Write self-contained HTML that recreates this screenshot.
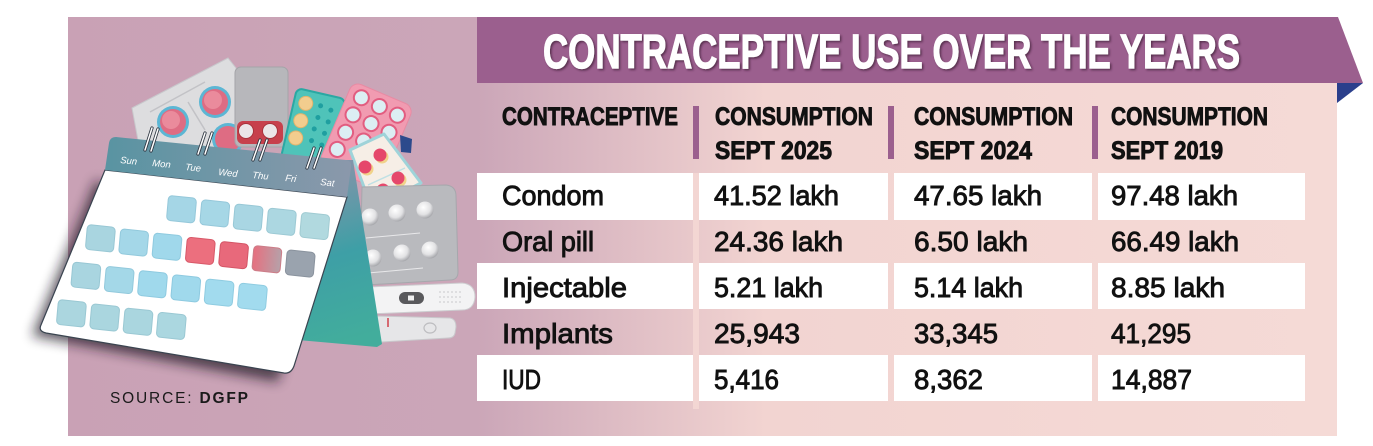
<!DOCTYPE html>
<html><head><meta charset="utf-8">
<style>html,body{margin:0;padding:0;background:#fff;}svg{display:block}</style>
</head><body>
<svg width="1373" height="446" viewBox="0 0 1373 446" xmlns="http://www.w3.org/2000/svg">
<defs>
<linearGradient id="bg" x1="68" y1="0" x2="1337" y2="0" gradientUnits="userSpaceOnUse">
<stop offset="0" stop-color="#c9a1b5"/>
<stop offset="0.322" stop-color="#cba6b8"/>
<stop offset="0.55" stop-color="#f2d4d1"/>
<stop offset="1" stop-color="#f5dad6"/>
</linearGradient>
<linearGradient id="band" x1="105" y1="0" x2="352" y2="0" gradientUnits="userSpaceOnUse">
<stop offset="0" stop-color="#5994a2"/>
<stop offset="1" stop-color="#8b98ab"/>
</linearGradient>
<linearGradient id="stand" x1="335" y1="165" x2="385" y2="330" gradientUnits="userSpaceOnUse">
<stop offset="0" stop-color="#8394a9"/>
<stop offset="0.5" stop-color="#3e9fa6"/>
<stop offset="1" stop-color="#42ad9c"/>
</linearGradient>
<linearGradient id="redgrey" x1="0" y1="0" x2="1" y2="0">
<stop offset="0" stop-color="#e6707f"/>
<stop offset="1" stop-color="#b6a1a9"/>
</linearGradient>
<radialGradient id="pearl" cx="0.4" cy="0.35" r="0.7">
<stop offset="0" stop-color="#ffffff"/>
<stop offset="0.6" stop-color="#e2e2e4"/>
<stop offset="1" stop-color="#9d9ea3"/>
</radialGradient>
<filter id="blur" x="-30%" y="-30%" width="160%" height="160%"><feGaussianBlur stdDeviation="6"/></filter>
<filter id="tsh" x="-5%" y="-20%" width="110%" height="140%"><feDropShadow dx="1.5" dy="1.5" stdDeviation="1" flood-color="#3a1d35" flood-opacity="0.7"/></filter>
</defs>

<!-- panel -->
<rect x="68" y="17" width="1269" height="419" fill="url(#bg)"/>

<!-- calendar shadow -->
<path d="M96,180 L32,336 L278,382 L300,300 Z" fill="#1e1620" opacity="0.7" filter="url(#blur)"/>

<!-- pack A silver -->
<polygon points="132,108 228,58 236,68 236,155 142,162" fill="#dddddf" stroke="#c8c8cc" stroke-width="1"/>
<line x1="150" y1="112" x2="205" y2="82" stroke="#c2c2c6" stroke-width="1.5"/>
<line x1="188" y1="102" x2="205" y2="130" stroke="#c2c2c6" stroke-width="1.5"/>
<circle cx="173" cy="122" r="16" fill="#5cb6d4"/><circle cx="173" cy="122" r="13" fill="#de6c83"/><circle cx="171" cy="120" r="9" fill="#ea8b9c"/>
<circle cx="215" cy="102" r="16" fill="#5cb6d4"/><circle cx="215" cy="102" r="13" fill="#de6c83"/><circle cx="213" cy="100" r="9" fill="#ea8b9c"/>
<circle cx="228" cy="139" r="16" fill="#5cb6d4"/><circle cx="228" cy="139" r="13" fill="#de6c83"/>

<!-- pack B grey -->
<rect x="235" y="67" width="53" height="80" rx="6" fill="#b7b7bb" stroke="#a4a4a8" stroke-width="1"/>
<rect x="237" y="121" width="46" height="23" rx="6" fill="#c7404c"/>
<circle cx="246" cy="131" r="7.5" fill="#ebe5e7" stroke="#a8323c" stroke-width="1"/>
<circle cx="270" cy="131" r="7.5" fill="#ebe5e7" stroke="#a8323c" stroke-width="1"/>

<!-- pack C teal -->
<g transform="translate(297,88) rotate(13)">
<rect x="0" y="0" width="50" height="78" rx="6" fill="#4fc3b9" stroke="#2aa8a3" stroke-width="2"/>
<circle cx="12" cy="13" r="7" fill="#f2cd8e" stroke="#e2b46c" stroke-width="1"/>
<circle cx="11" cy="31" r="7" fill="#f2cd8e" stroke="#e2b46c" stroke-width="1"/>
<circle cx="10" cy="49" r="7" fill="#f2cd8e" stroke="#e2b46c" stroke-width="1"/>
<circle cx="27" cy="12" r="2.5" fill="#1f9fa0"/><circle cx="38" cy="14" r="2.5" fill="#1f9fa0"/>
<circle cx="27" cy="24" r="2.5" fill="#1f9fa0"/><circle cx="38" cy="26" r="2.5" fill="#1f9fa0"/>
<circle cx="26" cy="36" r="2.5" fill="#1f9fa0"/><circle cx="37" cy="38" r="2.5" fill="#1f9fa0"/>
<circle cx="26" cy="48" r="2.5" fill="#1f9fa0"/><circle cx="37" cy="50" r="2.5" fill="#1f9fa0"/>
</g>

<!-- pack D pink -->
<g transform="translate(355,82) rotate(23)">
<rect x="-2" y="0" width="66" height="90" rx="9" fill="#f19bb1" stroke="#e88aa3" stroke-width="1"/>
<g fill="#dceef3" stroke="#e25d80" stroke-width="2">
<circle cx="12" cy="12" r="7.5"/><circle cx="32" cy="13" r="7.5"/><circle cx="52" cy="14" r="7.5"/>
<circle cx="11" cy="31" r="7.5"/><circle cx="31" cy="32" r="7.5"/><circle cx="51" cy="33" r="7.5"/>
<circle cx="11" cy="50" r="7.5"/><circle cx="31" cy="51" r="7.5"/><circle cx="51" cy="52" r="7.5"/>
<circle cx="10" cy="69" r="7.5"/>
</g>
</g>
<polygon points="400,135 412,139 411,153 401,152" fill="#2c4a8c"/>

<!-- pack E cream -->
<polygon points="350,150 384,134 421,183 372,208" fill="#f6eee6" stroke="#9fd3d9" stroke-width="3" stroke-linejoin="round"/>
<line x1="368" y1="185" x2="405" y2="168" stroke="#bfe0e4" stroke-width="1.5"/>
<g>
<circle cx="382" cy="157" r="6.5" fill="#f1d28a"/><circle cx="380" cy="155" r="6.5" fill="#e5476b"/>
<circle cx="367" cy="169" r="6.5" fill="#f1d28a"/><circle cx="365" cy="167" r="6.5" fill="#e5476b"/>
<circle cx="400" cy="180" r="6.5" fill="#f1d28a"/><circle cx="398" cy="178" r="6.5" fill="#e5476b"/>
<circle cx="385" cy="192" r="6.5" fill="#f1d28a"/><circle cx="383" cy="190" r="6.5" fill="#e5476b"/>
</g>

<!-- pack F grey blister -->
<path d="M362,187 L446,185 Q456,186 456,196 L458,272 Q458,280 450,280 L366,285 Q360,285 360,278 Z" fill="#b9babe" stroke="#a6a7ac" stroke-width="1"/>
<line x1="366" y1="238" x2="420" y2="233" stroke="#e8e8ea" stroke-width="1"/>
<line x1="368" y1="273" x2="423" y2="268" stroke="#e8e8ea" stroke-width="1"/>
<circle cx="370" cy="217" r="8.5" fill="url(#pearl)"/><circle cx="397" cy="213" r="8.5" fill="url(#pearl)"/><circle cx="425" cy="210" r="8.5" fill="url(#pearl)"/>
<circle cx="373" cy="258" r="8.5" fill="url(#pearl)"/><circle cx="402" cy="253" r="8.5" fill="url(#pearl)"/><circle cx="430" cy="250" r="8.5" fill="url(#pearl)"/>

<!-- pregnancy tests -->
<path d="M376,316 L450,318 Q456,319 456,327 L455,333 Q454,338 448,338 L380,342 Z" fill="#e6e6e8" stroke="#c9c9cc" stroke-width="1"/>
<line x1="388" y1="318" x2="388" y2="327" stroke="#d0404a" stroke-width="1.5"/>
<ellipse cx="430" cy="328" rx="6" ry="5" fill="none" stroke="#bdbdc0" stroke-width="1.2"/>
<path d="M368,287 L462,283 Q475,284 475,297 Q474,310 462,310 L368,314 Z" fill="#f3f3f4" stroke="#cdcdd0" stroke-width="1"/>
<rect x="399" y="292" width="25" height="12" rx="6" fill="#59595c"/>
<rect x="408" y="295.5" width="6" height="5" fill="#f0f0f0"/>
<g fill="#cfcfd2"><circle cx="440" cy="292" r="0.9"/><circle cx="444" cy="292" r="0.9"/><circle cx="448" cy="292" r="0.9"/><circle cx="452" cy="292" r="0.9"/><circle cx="456" cy="292" r="0.9"/><circle cx="460" cy="292" r="0.9"/>
<circle cx="440" cy="297" r="0.9"/><circle cx="444" cy="297" r="0.9"/><circle cx="448" cy="297" r="0.9"/><circle cx="452" cy="297" r="0.9"/><circle cx="456" cy="297" r="0.9"/><circle cx="460" cy="297" r="0.9"/>
<circle cx="440" cy="302" r="0.9"/><circle cx="444" cy="302" r="0.9"/><circle cx="448" cy="302" r="0.9"/><circle cx="452" cy="302" r="0.9"/><circle cx="456" cy="302" r="0.9"/><circle cx="460" cy="302" r="0.9"/></g>

<!-- stand -->
<polygon points="344,160 353,160 382,344 377,347 298,340 330,200" fill="url(#stand)"/>

<!-- page -->
<path d="M105,170 L347,197 L294,366 Q291,374 284,373 L46,333 Q38,331 41,325 Z" fill="#ffffff" stroke="#3a4450" stroke-width="1.2"/>
<!-- band -->
<path d="M116,137 L346,160 Q352,161 351,167 L347,197 L105,170 L109,143 Q110,137 116,137 Z" fill="url(#band)"/>

<!-- day labels -->
<g fill="#ffffff" font-family="Liberation Sans, sans-serif" font-style="italic" font-size="9.5">
<text x="120" y="163" transform="rotate(6 120 163)">Sun</text>
<text x="152" y="166" transform="rotate(6 152 166)">Mon</text>
<text x="185" y="170" transform="rotate(6 185 170)">Tue</text>
<text x="218" y="175" transform="rotate(6 218 175)">Wed</text>
<text x="252" y="178" transform="rotate(6 252 178)">Thu</text>
<text x="285" y="181" transform="rotate(6 285 181)">Fri</text>
<text x="320" y="185" transform="rotate(6 320 185)">Sat</text>
</g>

<!-- rings -->
<g stroke="#2d3540" stroke-width="3.2" stroke-linecap="round">
<line x1="145" y1="150" x2="152" y2="128"/><line x1="151" y1="151" x2="158" y2="129"/>
<line x1="198" y1="154" x2="205" y2="133"/><line x1="205" y1="154" x2="212" y2="133"/>
<line x1="253" y1="160" x2="260" y2="140"/><line x1="260" y1="160" x2="267" y2="140"/>
<line x1="307" y1="168" x2="314" y2="148"/><line x1="314" y1="168" x2="321" y2="148"/>
</g>
<g stroke="#ffffff" stroke-width="1.5" stroke-linecap="round">
<line x1="145" y1="150" x2="152" y2="128"/><line x1="151" y1="151" x2="158" y2="129"/>
<line x1="198" y1="154" x2="205" y2="133"/><line x1="205" y1="154" x2="212" y2="133"/>
<line x1="253" y1="160" x2="260" y2="140"/><line x1="260" y1="160" x2="267" y2="140"/>
<line x1="307" y1="168" x2="314" y2="148"/><line x1="314" y1="168" x2="321" y2="148"/>
</g>

<!-- squares -->
<g stroke-width="1">
<rect x="0" y="0" width="28" height="25" rx="4" fill="#a5d6e6" stroke="#95c8da" transform="translate(168.6 195.4) skewY(6) skewX(-5)"/>
<rect x="0" y="0" width="28" height="25" rx="4" fill="#a6d7e6" stroke="#95c8da" transform="translate(201.9 199.6) skewY(6) skewX(-5)"/>
<rect x="0" y="0" width="28" height="25" rx="4" fill="#a9d6e3" stroke="#98c8d6" transform="translate(235.2 203.8) skewY(6) skewX(-5)"/>
<rect x="0" y="0" width="28" height="25" rx="4" fill="#acd7e1" stroke="#9cc9d4" transform="translate(268.5 208) skewY(6) skewX(-5)"/>
<rect x="0" y="0" width="28" height="25" rx="4" fill="#b1d9df" stroke="#a0cbd2" transform="translate(301.8 212.2) skewY(6) skewX(-5)"/>

<rect x="0" y="0" width="28" height="25" rx="4" fill="#a9d5e0" stroke="#98c7d4" transform="translate(87.5 224.5) skewY(6) skewX(-5)"/>
<rect x="0" y="0" width="28" height="25" rx="4" fill="#a4d7e8" stroke="#92c9dc" transform="translate(120.8 228.7) skewY(6) skewX(-5)"/>
<rect x="0" y="0" width="28" height="25" rx="4" fill="#a0d8eb" stroke="#8ecadf" transform="translate(154.1 232.9) skewY(6) skewX(-5)"/>
<rect x="0" y="0" width="28" height="25" rx="4" fill="#ec6f7e" stroke="#d85868" transform="translate(187.4 237.1) skewY(6) skewX(-5)"/>
<rect x="0" y="0" width="28" height="25" rx="4" fill="#e8697b" stroke="#d45566" transform="translate(220.7 241.3) skewY(6) skewX(-5)"/>
<rect x="0" y="0" width="28" height="25" rx="4" fill="url(#redgrey)" stroke="#cc7d88" transform="translate(254 245.5) skewY(6) skewX(-5)"/>
<rect x="0" y="0" width="28" height="25" rx="4" fill="#9aa3ae" stroke="#8a939e" transform="translate(287.3 249.7) skewY(6) skewX(-5)"/>

<rect x="0" y="0" width="28" height="25" rx="4" fill="#a9d5e0" stroke="#98c7d4" transform="translate(73 262) skewY(6) skewX(-5)"/>
<rect x="0" y="0" width="28" height="25" rx="4" fill="#a4d8e8" stroke="#92c9dc" transform="translate(106.3 266.2) skewY(6) skewX(-5)"/>
<rect x="0" y="0" width="28" height="25" rx="4" fill="#a0d9ec" stroke="#8ecae0" transform="translate(139.6 270.4) skewY(6) skewX(-5)"/>
<rect x="0" y="0" width="28" height="25" rx="4" fill="#a0d9ec" stroke="#8ecae0" transform="translate(172.9 274.6) skewY(6) skewX(-5)"/>
<rect x="0" y="0" width="28" height="25" rx="4" fill="#a2dbee" stroke="#8fcce1" transform="translate(206.2 278.8) skewY(6) skewX(-5)"/>
<rect x="0" y="0" width="28" height="25" rx="4" fill="#a2dbee" stroke="#8fcce1" transform="translate(239.5 283) skewY(6) skewX(-5)"/>

<rect x="0" y="0" width="28" height="25" rx="4" fill="#abd6df" stroke="#9ac8d3" transform="translate(58.5 299.5) skewY(6) skewX(-5)"/>
<rect x="0" y="0" width="28" height="25" rx="4" fill="#aad6df" stroke="#9ac8d3" transform="translate(91.8 303.7) skewY(6) skewX(-5)"/>
<rect x="0" y="0" width="28" height="25" rx="4" fill="#aad6df" stroke="#9ac8d3" transform="translate(125.1 307.9) skewY(6) skewX(-5)"/>
<rect x="0" y="0" width="28" height="25" rx="4" fill="#abd7e0" stroke="#9ac8d3" transform="translate(158.4 312.1) skewY(6) skewX(-5)"/>
</g>

<!-- source -->
<text x="110" y="403" font-family="Liberation Sans, sans-serif" font-size="15.5" fill="#1a1a1a" textLength="138" lengthAdjust="spacing">SOURCE: <tspan font-weight="bold">DGFP</tspan></text>

<!-- banner -->
<polygon points="477,17 1338,17 1363,83 477,83" fill="#9b5f8e"/>
<polygon points="1337,83 1363,83 1337,103" fill="#2b3f8c"/>
<text x="543" y="68" font-family="Liberation Sans Narrow, Liberation Sans, sans-serif" font-weight="bold" font-size="48" fill="#ffffff" stroke="#ffffff" stroke-width="1.2" textLength="697" lengthAdjust="spacingAndGlyphs" filter="url(#tsh)">CONTRACEPTIVE USE OVER THE YEARS</text>

<!-- header -->
<g font-family="Liberation Sans Narrow, Liberation Sans, sans-serif" font-weight="bold" font-size="25" fill="#111" stroke="#111" stroke-width="0.9">
<text x="502" y="125" textLength="176" lengthAdjust="spacingAndGlyphs">CONTRACEPTIVE</text>
<text x="715" y="125" textLength="158" lengthAdjust="spacingAndGlyphs">CONSUMPTION</text>
<text x="715" y="159" textLength="117" lengthAdjust="spacingAndGlyphs">SEPT 2025</text>
<text x="914" y="125" textLength="159" lengthAdjust="spacingAndGlyphs">CONSUMPTION</text>
<text x="914" y="159" textLength="118" lengthAdjust="spacingAndGlyphs">SEPT 2024</text>
<text x="1111" y="125" textLength="157" lengthAdjust="spacingAndGlyphs">CONSUMPTION</text>
<text x="1111" y="159" textLength="112" lengthAdjust="spacingAndGlyphs">SEPT 2019</text>
</g>
<rect x="693" y="106" width="6" height="53" fill="#9b5f8e"/>
<rect x="888" y="106" width="6" height="53" fill="#9b5f8e"/>
<rect x="1092" y="106" width="6" height="53" fill="#9b5f8e"/>

<!-- strip -->
<rect x="693" y="173" width="6" height="236" fill="#f3d6d3"/>

<!-- white rows -->
<g fill="#ffffff">
<rect x="477" y="173" width="216" height="47"/><rect x="699" y="173" width="189" height="47"/><rect x="894" y="173" width="198" height="47"/><rect x="1098" y="173" width="207" height="47"/>
<rect x="477" y="263" width="216" height="46"/><rect x="699" y="263" width="189" height="46"/><rect x="894" y="263" width="198" height="46"/><rect x="1098" y="263" width="207" height="46"/>
<rect x="477" y="355" width="216" height="46"/><rect x="699" y="355" width="189" height="46"/><rect x="894" y="355" width="198" height="46"/><rect x="1098" y="355" width="207" height="46"/>
</g>

<!-- body text -->
<g font-family="Liberation Sans Narrow, Liberation Sans, sans-serif" font-size="28" fill="#111" stroke="#111" stroke-width="0.9">
<text x="502" y="205" textLength="102" lengthAdjust="spacingAndGlyphs">Condom</text>
<text x="714" y="205" textLength="125" lengthAdjust="spacingAndGlyphs">41.52 lakh</text>
<text x="914" y="205" textLength="128" lengthAdjust="spacingAndGlyphs">47.65 lakh</text>
<text x="1111" y="205" textLength="127" lengthAdjust="spacingAndGlyphs">97.48 lakh</text>

<text x="502" y="251" textLength="92" lengthAdjust="spacingAndGlyphs">Oral pill</text>
<text x="714" y="251" textLength="129" lengthAdjust="spacingAndGlyphs">24.36 lakh</text>
<text x="914" y="251" textLength="114" lengthAdjust="spacingAndGlyphs">6.50 lakh</text>
<text x="1111" y="251" textLength="128" lengthAdjust="spacingAndGlyphs">66.49 lakh</text>

<text x="502" y="297" textLength="125" lengthAdjust="spacingAndGlyphs">Injectable</text>
<text x="714" y="297" textLength="109" lengthAdjust="spacingAndGlyphs">5.21 lakh</text>
<text x="914" y="297" textLength="109" lengthAdjust="spacingAndGlyphs">5.14 lakh</text>
<text x="1111" y="297" textLength="114" lengthAdjust="spacingAndGlyphs">8.85 lakh</text>

<text x="502" y="343" textLength="111" lengthAdjust="spacingAndGlyphs">Implants</text>
<text x="714" y="343" textLength="86" lengthAdjust="spacingAndGlyphs">25,943</text>
<text x="914" y="343" textLength="84" lengthAdjust="spacingAndGlyphs">33,345</text>
<text x="1111" y="343" textLength="80" lengthAdjust="spacingAndGlyphs">41,295</text>

<text x="502" y="389" textLength="39" lengthAdjust="spacingAndGlyphs">IUD</text>
<text x="714" y="389" textLength="65" lengthAdjust="spacingAndGlyphs">5,416</text>
<text x="914" y="389" textLength="69" lengthAdjust="spacingAndGlyphs">8,362</text>
<text x="1111" y="389" textLength="81" lengthAdjust="spacingAndGlyphs">14,887</text>
</g>
</svg>
</body></html>
